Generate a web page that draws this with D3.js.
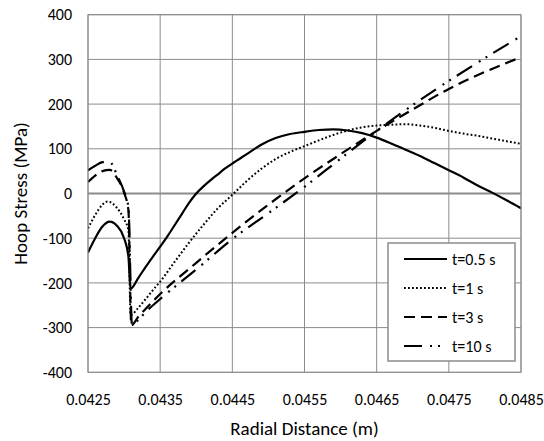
<!DOCTYPE html>
<html>
<head>
<meta charset="utf-8">
<script src="https://cdn.jsdelivr.net/npm/d3@7"></script>
<style>
  body { margin: 0; background: #fff; }
  svg text { font-family: Carlito, Lato, "Open Sans", sans-serif; fill: #000; }
</style>
</head>
<body>
<div id="chart"></div>
<script>
// radial distance (m) and hoop stress (MPa) for each time step
const r05 = [0.04250,0.04260,0.04270,0.04280,0.04290,0.04300,0.04306,0.04309,0.04320,0.04330,0.04340,0.04350,0.04360,0.04370,0.04380,0.04390,0.04400,0.04410,0.04420,0.04430,0.04440,0.04450,0.04470,0.04490,0.04510,0.04530,0.04550,0.04570,0.04590,0.04610,0.04630,0.04650,0.04670,0.04690,0.04710,0.04730,0.04750,0.04770,0.04790,0.04810,0.04830,0.04850];
const s05 = [-132,-100,-74,-63,-72,-100,-141,-213,-188,-164,-141,-119,-96,-71,-46,-21,0,16,30,43,56,67,88,109,124,133,138,142,143.6,141,135,125,112,98,84,68,52,36,18,2,-15,-33];

const r1 = [0.04250,0.04260,0.04270,0.04277,0.04290,0.04300,0.04306,0.04309,0.04320,0.04330,0.04340,0.04350,0.04370,0.04390,0.04410,0.04430,0.04450,0.04470,0.04490,0.04510,0.04530,0.04550,0.04570,0.04590,0.04610,0.04630,0.04650,0.04670,0.04690,0.04710,0.04730,0.04750,0.04770,0.04790,0.04810,0.04830,0.04850];
const s1 = [-78,-48,-25,-18,-32,-58,-82,-272,-255,-236,-216,-197,-153,-110,-70,-33,-3,28,55,77,93,106,119,131,141,148,152,154,155,152,147,140,134,129,123,117,111];

const r3 = [0.04250,0.04260,0.04270,0.04280,0.04290,0.04300,0.04306,0.04310,0.04320,0.04330,0.04350,0.04400,0.04450,0.04500,0.04550,0.04600,0.04650,0.04700,0.04750,0.04800,0.04850];
const s3 = [26,40,50,53,35,2,-37,-295,-275,-258,-225,-155,-88,-25,34,88,140,188,234,272,305];

const r10 = [0.04250,0.04260,0.04270,0.04280,0.04290,0.04300,0.04306,0.04311,0.04320,0.04330,0.04350,0.04400,0.04450,0.04500,0.04550,0.04600,0.04650,0.04700,0.04750,0.04800,0.04850];
const s10 = [52,62,70,71,42,4,-30,-295,-282,-265,-236,-170,-102,-44,15,78,140,198,252,303,352];

const seriesNames = ["t=0.5 s", "t=1 s", "t=3 s", "t=10 s"];
const xTicks = [0.0425, 0.0435, 0.0445, 0.0455, 0.0465, 0.0475, 0.0485];
const yTicks = [-400, -300, -200, -100, 0, 100, 200, 300, 400];

// line styles for each series
const dashes = [null, "1.8,2.2", "11,6", "18,8,2,6,2,7"];

const W = 544, H = 441;
const margin = {top: 14.7, right: 23, bottom: 68.7, left: 88};
const width = W - margin.left - margin.right,
      height = H - margin.top - margin.bottom;

const svg = d3.select("#chart").append("svg")
  .attr("width", W)
  .attr("height", H);

const g = svg.append("g")
  .attr("transform", "translate(" + margin.left + "," + margin.top + ")");

const x = d3.scaleLinear().domain([0.0425, 0.0485]).range([0, width]);
const y = d3.scaleLinear().domain([-400, 400]).range([height, 0]);

// grid
g.append("g")
  .selectAll("line")
  .data(xTicks)
  .enter().append("line")
    .attr("x1", d => x(d)).attr("x2", d => x(d))
    .attr("y1", 0).attr("y2", height)
    .attr("stroke", "#8c8c8c").attr("stroke-width", 1);

g.append("g")
  .selectAll("line")
  .data(yTicks)
  .enter().append("line")
    .attr("x1", 0).attr("x2", width)
    .attr("y1", d => y(d)).attr("y2", d => y(d))
    .attr("stroke", "#8c8c8c")
    .attr("stroke-width", d => d === 0 ? 2 : 1);

// axes (labels only, Excel style)
const xAxis = g.append("g")
  .attr("transform", "translate(0," + height + ")")
  .call(d3.axisBottom(x).tickValues(xTicks).tickFormat(d3.format(".4f")).tickSize(0).tickPadding(21));
xAxis.select(".domain").remove();
xAxis.selectAll("text").style("font-size", "16px");

const yAxis = g.append("g")
  .call(d3.axisLeft(y).tickValues(yTicks).tickFormat(d => String(d)).tickSize(0).tickPadding(16));
yAxis.select(".domain").remove();
yAxis.selectAll("text").style("font-size", "16px");

// clip
g.append("clipPath").attr("id", "clip")
  .append("rect").attr("width", width).attr("height", height);

const line = d3.line()
  .x(d => x(d[0]))
  .y(d => y(d[1]))
  .curve(d3.curveMonotoneX);

const series = [
  d3.zip(r05, s05),
  d3.zip(r1, s1),
  d3.zip(r3, s3),
  d3.zip(r10, s10)
];

g.append("g").attr("clip-path", "url(#clip)")
  .selectAll("path")
  .data(series)
  .enter().append("path")
    .attr("d", line)
    .attr("fill", "none")
    .attr("stroke", "#000")
    .attr("stroke-width", (d, i) => i === 1 ? 2 : 2.2)
    .attr("stroke-dasharray", (d, i) => dashes[i]);

// plot border
g.append("rect")
  .attr("width", width).attr("height", height)
  .attr("fill", "none").attr("stroke", "#8c8c8c").attr("stroke-width", 1);

// legend
const legend = svg.append("g").attr("transform", "translate(388,243)");
legend.append("rect")
  .attr("width", 127).attr("height", 118)
  .attr("fill", "#fff").attr("stroke", "#8c8c8c").attr("stroke-width", 1.5);

const item = legend.selectAll(".item")
  .data(seriesNames)
  .enter().append("g")
    .attr("class", "item")
    .attr("transform", (d, i) => "translate(0," + (16 + i * 29) + ")");

item.append("line")
  .attr("x1", 16).attr("x2", 59)
  .attr("stroke", "#000")
  .attr("stroke-width", (d, i) => i === 1 ? 2 : 2.2)
  .attr("stroke-dasharray", (d, i) => dashes[i]);

item.append("text")
  .attr("x", 64).attr("dy", "0.35em")
  .style("font-size", "16px")
  .text(d => d);

// axis titles
svg.append("text")
  .attr("x", margin.left + width / 2)
  .attr("y", 428)
  .attr("dy", "0.35em")
  .style("text-anchor", "middle")
  .style("font-size", "19px")
  .text("Radial Distance (m)");

svg.append("text")
  .attr("transform", "rotate(-90)")
  .attr("x", -(margin.top + height / 2))
  .attr("y", 20)
  .attr("dy", "0.35em")
  .style("text-anchor", "middle")
  .style("font-size", "19px")
  .text("Hoop Stress (MPa)");
</script>
</body>
</html>
